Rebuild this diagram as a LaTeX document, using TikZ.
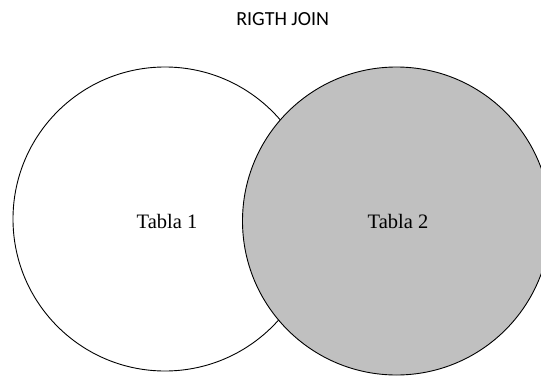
\documentclass[tikz,border=0pt]{standalone}
\usepackage{fontspec}
\setmainfont{Liberation Serif}
\newfontfamily\titlefont{Carlito}
\definecolor{setgray}{RGB}{192,192,192}
\begin{document}
\begin{tikzpicture}[x=1pt,y=1pt,
  setcircle/.style={circle,draw=black,line width=0.9pt,inner sep=0pt},
  setlabel/.style={font=\fontsize{20.5}{23}\selectfont,anchor=base,inner sep=0pt},
  titlelabel/.style={font=\titlefont\fontsize{20}{23}\selectfont,anchor=base,inner sep=0pt}]
\useasboundingbox (0,0) rectangle (541,376);
\clip (0,0) rectangle (541,376);
\node[setcircle,fill=white,minimum size=304pt] (left) at (165,157) {};
\node[setcircle,fill=setgray,minimum size=308pt] (right) at (396.5,155) {};
\node[setlabel] (t1) at (167,148) {Tabla 1};
\node[setlabel] (t2) at (398,148) {Tabla 2};
\node[titlelabel] (title) at (282.7,351) {RIGTH JOIN};
\end{tikzpicture}
\end{document}
